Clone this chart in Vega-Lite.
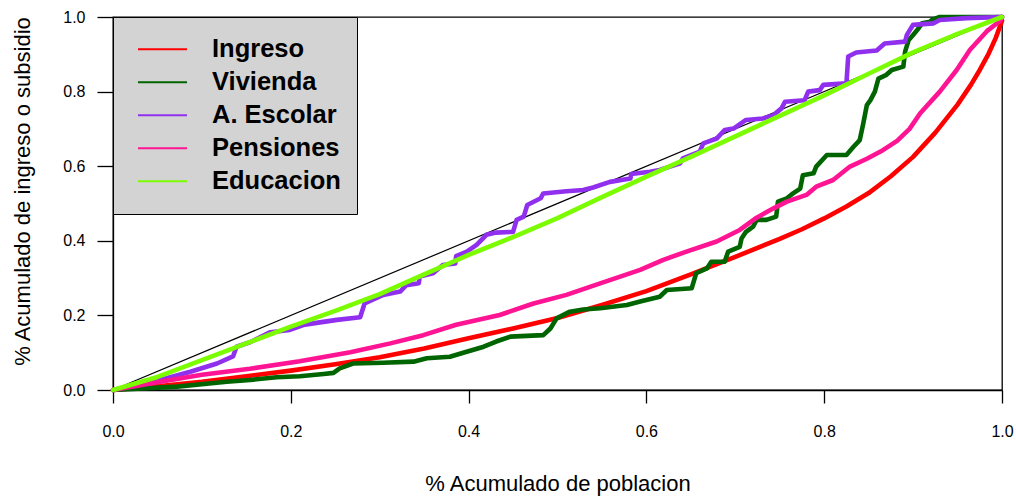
{
  "$schema": "https://vega.github.io/schema/vega-lite/v6.json",
  "width": 889,
  "height": 373,
  "autosize": "none",
  "padding": {"left": 113, "top": 17, "right": 14, "bottom": 107},
  "config": {
    "view": {"stroke": "black", "strokeWidth": 1.3},
    "font": "Liberation Sans",
    "axis": {
      "grid": false,
      "domainColor": "black",
      "domainWidth": 1.3,
      "tickColor": "black",
      "tickWidth": 1.3,
      "labelColor": "black",
      "titleColor": "black",
      "labelFont": "Liberation Sans",
      "titleFont": "Liberation Sans",
      "labelFontSize": 16,
      "titleFontSize": 22,
      "titleFontWeight": "normal",
      "labelFlush": false
    }
  },
  "datasets": {
    "diag": [{"x": 0, "y": 0}, {"x": 1, "y": 1}],
    "curves": [
      {"s": "Ingreso", "x": 0, "y": 0},
      {"s": "Ingreso", "x": 0.05, "y": 0.01},
      {"s": "Ingreso", "x": 0.1, "y": 0.022},
      {"s": "Ingreso", "x": 0.15, "y": 0.037},
      {"s": "Ingreso", "x": 0.2, "y": 0.052},
      {"s": "Ingreso", "x": 0.25, "y": 0.069},
      {"s": "Ingreso", "x": 0.3, "y": 0.088},
      {"s": "Ingreso", "x": 0.35, "y": 0.111},
      {"s": "Ingreso", "x": 0.4, "y": 0.139},
      {"s": "Ingreso", "x": 0.45, "y": 0.165},
      {"s": "Ingreso", "x": 0.5, "y": 0.193},
      {"s": "Ingreso", "x": 0.55, "y": 0.228},
      {"s": "Ingreso", "x": 0.6, "y": 0.265},
      {"s": "Ingreso", "x": 0.65, "y": 0.31},
      {"s": "Ingreso", "x": 0.7, "y": 0.357},
      {"s": "Ingreso", "x": 0.75, "y": 0.405},
      {"s": "Ingreso", "x": 0.775, "y": 0.431},
      {"s": "Ingreso", "x": 0.8, "y": 0.46},
      {"s": "Ingreso", "x": 0.825, "y": 0.492},
      {"s": "Ingreso", "x": 0.85, "y": 0.528},
      {"s": "Ingreso", "x": 0.875, "y": 0.573},
      {"s": "Ingreso", "x": 0.9, "y": 0.625},
      {"s": "Ingreso", "x": 0.925, "y": 0.69},
      {"s": "Ingreso", "x": 0.95, "y": 0.765},
      {"s": "Ingreso", "x": 0.965, "y": 0.818},
      {"s": "Ingreso", "x": 0.975, "y": 0.858},
      {"s": "Ingreso", "x": 0.985, "y": 0.902},
      {"s": "Ingreso", "x": 0.993, "y": 0.944},
      {"s": "Ingreso", "x": 1, "y": 0.99},

      {"s": "Vivienda", "x": 0, "y": 0},
      {"s": "Vivienda", "x": 0.072, "y": 0.009},
      {"s": "Vivienda", "x": 0.128, "y": 0.022},
      {"s": "Vivienda", "x": 0.154, "y": 0.027},
      {"s": "Vivienda", "x": 0.184, "y": 0.034},
      {"s": "Vivienda", "x": 0.21, "y": 0.037},
      {"s": "Vivienda", "x": 0.237, "y": 0.043},
      {"s": "Vivienda", "x": 0.248, "y": 0.046},
      {"s": "Vivienda", "x": 0.255, "y": 0.058},
      {"s": "Vivienda", "x": 0.27, "y": 0.071},
      {"s": "Vivienda", "x": 0.304, "y": 0.073},
      {"s": "Vivienda", "x": 0.338, "y": 0.076},
      {"s": "Vivienda", "x": 0.353, "y": 0.085},
      {"s": "Vivienda", "x": 0.379, "y": 0.089},
      {"s": "Vivienda", "x": 0.394, "y": 0.1},
      {"s": "Vivienda", "x": 0.417, "y": 0.116},
      {"s": "Vivienda", "x": 0.431, "y": 0.13},
      {"s": "Vivienda", "x": 0.447, "y": 0.143},
      {"s": "Vivienda", "x": 0.484, "y": 0.147},
      {"s": "Vivienda", "x": 0.492, "y": 0.165},
      {"s": "Vivienda", "x": 0.499, "y": 0.192},
      {"s": "Vivienda", "x": 0.514, "y": 0.21},
      {"s": "Vivienda", "x": 0.529, "y": 0.216},
      {"s": "Vivienda", "x": 0.548, "y": 0.219},
      {"s": "Vivienda", "x": 0.578, "y": 0.228},
      {"s": "Vivienda", "x": 0.593, "y": 0.237},
      {"s": "Vivienda", "x": 0.615, "y": 0.25},
      {"s": "Vivienda", "x": 0.623, "y": 0.268},
      {"s": "Vivienda", "x": 0.651, "y": 0.273},
      {"s": "Vivienda", "x": 0.656, "y": 0.313},
      {"s": "Vivienda", "x": 0.668, "y": 0.326},
      {"s": "Vivienda", "x": 0.673, "y": 0.344},
      {"s": "Vivienda", "x": 0.688, "y": 0.344},
      {"s": "Vivienda", "x": 0.692, "y": 0.371},
      {"s": "Vivienda", "x": 0.705, "y": 0.384},
      {"s": "Vivienda", "x": 0.707, "y": 0.406},
      {"s": "Vivienda", "x": 0.712, "y": 0.424},
      {"s": "Vivienda", "x": 0.72, "y": 0.438},
      {"s": "Vivienda", "x": 0.724, "y": 0.456},
      {"s": "Vivienda", "x": 0.735, "y": 0.456},
      {"s": "Vivienda", "x": 0.746, "y": 0.465},
      {"s": "Vivienda", "x": 0.748, "y": 0.505},
      {"s": "Vivienda", "x": 0.758, "y": 0.514},
      {"s": "Vivienda", "x": 0.765, "y": 0.527},
      {"s": "Vivienda", "x": 0.773, "y": 0.54},
      {"s": "Vivienda", "x": 0.776, "y": 0.576},
      {"s": "Vivienda", "x": 0.788, "y": 0.581},
      {"s": "Vivienda", "x": 0.791, "y": 0.599},
      {"s": "Vivienda", "x": 0.803, "y": 0.63},
      {"s": "Vivienda", "x": 0.825, "y": 0.63},
      {"s": "Vivienda", "x": 0.833, "y": 0.652},
      {"s": "Vivienda", "x": 0.84, "y": 0.67},
      {"s": "Vivienda", "x": 0.844, "y": 0.715},
      {"s": "Vivienda", "x": 0.848, "y": 0.764},
      {"s": "Vivienda", "x": 0.852, "y": 0.777},
      {"s": "Vivienda", "x": 0.857, "y": 0.8},
      {"s": "Vivienda", "x": 0.861, "y": 0.835},
      {"s": "Vivienda", "x": 0.87, "y": 0.845},
      {"s": "Vivienda", "x": 0.876, "y": 0.858},
      {"s": "Vivienda", "x": 0.889, "y": 0.867},
      {"s": "Vivienda", "x": 0.891, "y": 0.907},
      {"s": "Vivienda", "x": 0.895, "y": 0.938},
      {"s": "Vivienda", "x": 0.9, "y": 0.952},
      {"s": "Vivienda", "x": 0.906, "y": 0.969},
      {"s": "Vivienda", "x": 0.91, "y": 0.983},
      {"s": "Vivienda", "x": 0.919, "y": 0.987},
      {"s": "Vivienda", "x": 0.921, "y": 0.992},
      {"s": "Vivienda", "x": 0.93, "y": 1},
      {"s": "Vivienda", "x": 1, "y": 1},

      {"s": "A. Escolar", "x": 0, "y": 0},
      {"s": "A. Escolar", "x": 0.053, "y": 0.027},
      {"s": "A. Escolar", "x": 0.087, "y": 0.049},
      {"s": "A. Escolar", "x": 0.117, "y": 0.071},
      {"s": "A. Escolar", "x": 0.135, "y": 0.09},
      {"s": "A. Escolar", "x": 0.139, "y": 0.116},
      {"s": "A. Escolar", "x": 0.154, "y": 0.128},
      {"s": "A. Escolar", "x": 0.177, "y": 0.155},
      {"s": "A. Escolar", "x": 0.199, "y": 0.161},
      {"s": "A. Escolar", "x": 0.214, "y": 0.174},
      {"s": "A. Escolar", "x": 0.229, "y": 0.18},
      {"s": "A. Escolar", "x": 0.252, "y": 0.188},
      {"s": "A. Escolar", "x": 0.278, "y": 0.195},
      {"s": "A. Escolar", "x": 0.283, "y": 0.232},
      {"s": "A. Escolar", "x": 0.304, "y": 0.255},
      {"s": "A. Escolar", "x": 0.323, "y": 0.264},
      {"s": "A. Escolar", "x": 0.33, "y": 0.281},
      {"s": "A. Escolar", "x": 0.344, "y": 0.286},
      {"s": "A. Escolar", "x": 0.345, "y": 0.304},
      {"s": "A. Escolar", "x": 0.36, "y": 0.313},
      {"s": "A. Escolar", "x": 0.371, "y": 0.335},
      {"s": "A. Escolar", "x": 0.385, "y": 0.339},
      {"s": "A. Escolar", "x": 0.386, "y": 0.359},
      {"s": "A. Escolar", "x": 0.398, "y": 0.371},
      {"s": "A. Escolar", "x": 0.409, "y": 0.389},
      {"s": "A. Escolar", "x": 0.42, "y": 0.416},
      {"s": "A. Escolar", "x": 0.431, "y": 0.422},
      {"s": "A. Escolar", "x": 0.45, "y": 0.424},
      {"s": "A. Escolar", "x": 0.454, "y": 0.456},
      {"s": "A. Escolar", "x": 0.462, "y": 0.465},
      {"s": "A. Escolar", "x": 0.466, "y": 0.496},
      {"s": "A. Escolar", "x": 0.481, "y": 0.514},
      {"s": "A. Escolar", "x": 0.484, "y": 0.527},
      {"s": "A. Escolar", "x": 0.51, "y": 0.533},
      {"s": "A. Escolar", "x": 0.529, "y": 0.536},
      {"s": "A. Escolar", "x": 0.54, "y": 0.543},
      {"s": "A. Escolar", "x": 0.559, "y": 0.558},
      {"s": "A. Escolar", "x": 0.582, "y": 0.567},
      {"s": "A. Escolar", "x": 0.583, "y": 0.579},
      {"s": "A. Escolar", "x": 0.604, "y": 0.585},
      {"s": "A. Escolar", "x": 0.615, "y": 0.59},
      {"s": "A. Escolar", "x": 0.638, "y": 0.608},
      {"s": "A. Escolar", "x": 0.641, "y": 0.621},
      {"s": "A. Escolar", "x": 0.66, "y": 0.639},
      {"s": "A. Escolar", "x": 0.664, "y": 0.661},
      {"s": "A. Escolar", "x": 0.679, "y": 0.674},
      {"s": "A. Escolar", "x": 0.688, "y": 0.697},
      {"s": "A. Escolar", "x": 0.698, "y": 0.701},
      {"s": "A. Escolar", "x": 0.712, "y": 0.724},
      {"s": "A. Escolar", "x": 0.731, "y": 0.728},
      {"s": "A. Escolar", "x": 0.743, "y": 0.737},
      {"s": "A. Escolar", "x": 0.752, "y": 0.755},
      {"s": "A. Escolar", "x": 0.756, "y": 0.773},
      {"s": "A. Escolar", "x": 0.778, "y": 0.777},
      {"s": "A. Escolar", "x": 0.782, "y": 0.8},
      {"s": "A. Escolar", "x": 0.795, "y": 0.804},
      {"s": "A. Escolar", "x": 0.799, "y": 0.818},
      {"s": "A. Escolar", "x": 0.825, "y": 0.822},
      {"s": "A. Escolar", "x": 0.827, "y": 0.894},
      {"s": "A. Escolar", "x": 0.836, "y": 0.905},
      {"s": "A. Escolar", "x": 0.859, "y": 0.91},
      {"s": "A. Escolar", "x": 0.868, "y": 0.929},
      {"s": "A. Escolar", "x": 0.891, "y": 0.934},
      {"s": "A. Escolar", "x": 0.893, "y": 0.952},
      {"s": "A. Escolar", "x": 0.9, "y": 0.979},
      {"s": "A. Escolar", "x": 0.923, "y": 0.983},
      {"s": "A. Escolar", "x": 0.93, "y": 0.992},
      {"s": "A. Escolar", "x": 0.96, "y": 0.997},
      {"s": "A. Escolar", "x": 1, "y": 1},

      {"s": "Pensiones", "x": 0, "y": 0},
      {"s": "Pensiones", "x": 0.05, "y": 0.021},
      {"s": "Pensiones", "x": 0.1, "y": 0.041},
      {"s": "Pensiones", "x": 0.154, "y": 0.057},
      {"s": "Pensiones", "x": 0.21, "y": 0.077},
      {"s": "Pensiones", "x": 0.267, "y": 0.101},
      {"s": "Pensiones", "x": 0.312, "y": 0.125},
      {"s": "Pensiones", "x": 0.349, "y": 0.147},
      {"s": "Pensiones", "x": 0.386, "y": 0.175},
      {"s": "Pensiones", "x": 0.435, "y": 0.201},
      {"s": "Pensiones", "x": 0.473, "y": 0.232},
      {"s": "Pensiones", "x": 0.51, "y": 0.255},
      {"s": "Pensiones", "x": 0.548, "y": 0.286},
      {"s": "Pensiones", "x": 0.593, "y": 0.322},
      {"s": "Pensiones", "x": 0.619, "y": 0.349},
      {"s": "Pensiones", "x": 0.645, "y": 0.371},
      {"s": "Pensiones", "x": 0.679, "y": 0.398},
      {"s": "Pensiones", "x": 0.705, "y": 0.429},
      {"s": "Pensiones", "x": 0.724, "y": 0.462},
      {"s": "Pensiones", "x": 0.743, "y": 0.487},
      {"s": "Pensiones", "x": 0.758, "y": 0.505},
      {"s": "Pensiones", "x": 0.78, "y": 0.523},
      {"s": "Pensiones", "x": 0.791, "y": 0.545},
      {"s": "Pensiones", "x": 0.81, "y": 0.563},
      {"s": "Pensiones", "x": 0.829, "y": 0.599},
      {"s": "Pensiones", "x": 0.848, "y": 0.62},
      {"s": "Pensiones", "x": 0.866, "y": 0.643},
      {"s": "Pensiones", "x": 0.882, "y": 0.668},
      {"s": "Pensiones", "x": 0.896, "y": 0.7},
      {"s": "Pensiones", "x": 0.908, "y": 0.742},
      {"s": "Pensiones", "x": 0.93, "y": 0.8},
      {"s": "Pensiones", "x": 0.949, "y": 0.858},
      {"s": "Pensiones", "x": 0.964, "y": 0.912},
      {"s": "Pensiones", "x": 0.983, "y": 0.962},
      {"s": "Pensiones", "x": 0.998, "y": 0.99},
      {"s": "Pensiones", "x": 1, "y": 1},

      {"s": "Educacion", "x": 0, "y": 0},
      {"s": "Educacion", "x": 0.05, "y": 0.035},
      {"s": "Educacion", "x": 0.1, "y": 0.08},
      {"s": "Educacion", "x": 0.15, "y": 0.125},
      {"s": "Educacion", "x": 0.2, "y": 0.17},
      {"s": "Educacion", "x": 0.25, "y": 0.212},
      {"s": "Educacion", "x": 0.3, "y": 0.257},
      {"s": "Educacion", "x": 0.35, "y": 0.31},
      {"s": "Educacion", "x": 0.4, "y": 0.362},
      {"s": "Educacion", "x": 0.45, "y": 0.41},
      {"s": "Educacion", "x": 0.5, "y": 0.461},
      {"s": "Educacion", "x": 0.55, "y": 0.517},
      {"s": "Educacion", "x": 0.6, "y": 0.572},
      {"s": "Educacion", "x": 0.65, "y": 0.625},
      {"s": "Educacion", "x": 0.7, "y": 0.68},
      {"s": "Educacion", "x": 0.75, "y": 0.735},
      {"s": "Educacion", "x": 0.8, "y": 0.79},
      {"s": "Educacion", "x": 0.85, "y": 0.848},
      {"s": "Educacion", "x": 0.9, "y": 0.905},
      {"s": "Educacion", "x": 0.95, "y": 0.955},
      {"s": "Educacion", "x": 1, "y": 1}
    ]
  },
  "layer": [
    {
      "data": {"name": "diag"},
      "mark": {"type": "line", "color": "black", "strokeWidth": 1.2},
      "encoding": {
        "x": {
          "field": "x", "type": "quantitative",
          "scale": {"domain": [0, 1], "nice": false},
          "axis": {
            "title": "% Acumulado de poblacion",
            "values": [0, 0.2, 0.4, 0.6, 0.8, 1],
            "format": ".1f",
            "tickSize": 13,
            "labelPadding": 20,
            "titlePadding": 34
          }
        },
        "y": {
          "field": "y", "type": "quantitative",
          "scale": {"domain": [0, 1], "nice": false},
          "axis": {
            "title": "% Acumulado de ingreso o subsidio",
            "values": [0, 0.2, 0.4, 0.6, 0.8, 1],
            "format": ".1f",
            "labelAngle": 0,
            "tickSize": 16,
            "labelPadding": 12,
            "titlePadding": 28,
            "titleY": 174
          }
        }
      }
    },
    {
      "data": {"name": "curves"},
      "mark": {"type": "line", "strokeWidth": 4.6, "strokeCap": "round", "strokeJoin": "round"},
      "encoding": {
        "x": {"field": "x", "type": "quantitative"},
        "y": {"field": "y", "type": "quantitative"},
        "color": {
          "field": "s", "type": "nominal",
          "scale": {
            "domain": ["Ingreso", "Vivienda", "A. Escolar", "Pensiones", "Educacion"],
            "range": ["#FF0000", "#006400", "#9030EE", "#FF1493", "#7CFC00"]
          },
          "legend": {
            "title": null,
            "orient": "none",
            "legendX": 0,
            "legendY": 0,
            "fillColor": "#D3D3D3",
            "strokeColor": "black",
            "padding": 16,
            "symbolOffset": 8,
            "symbolType": "stroke",
            "symbolSize": 2400,
            "symbolStrokeWidth": 2,
            "clipHeight": 32.3,
            "rowPadding": 0,
            "labelFontSize": 25.5,
            "labelFontWeight": "bold",
            "labelFont": "Liberation Sans",
            "labelColor": "black",
            "labelOffset": 24,
            "labelLimit": 400
          }
        }
      }
    }
  ]
}
